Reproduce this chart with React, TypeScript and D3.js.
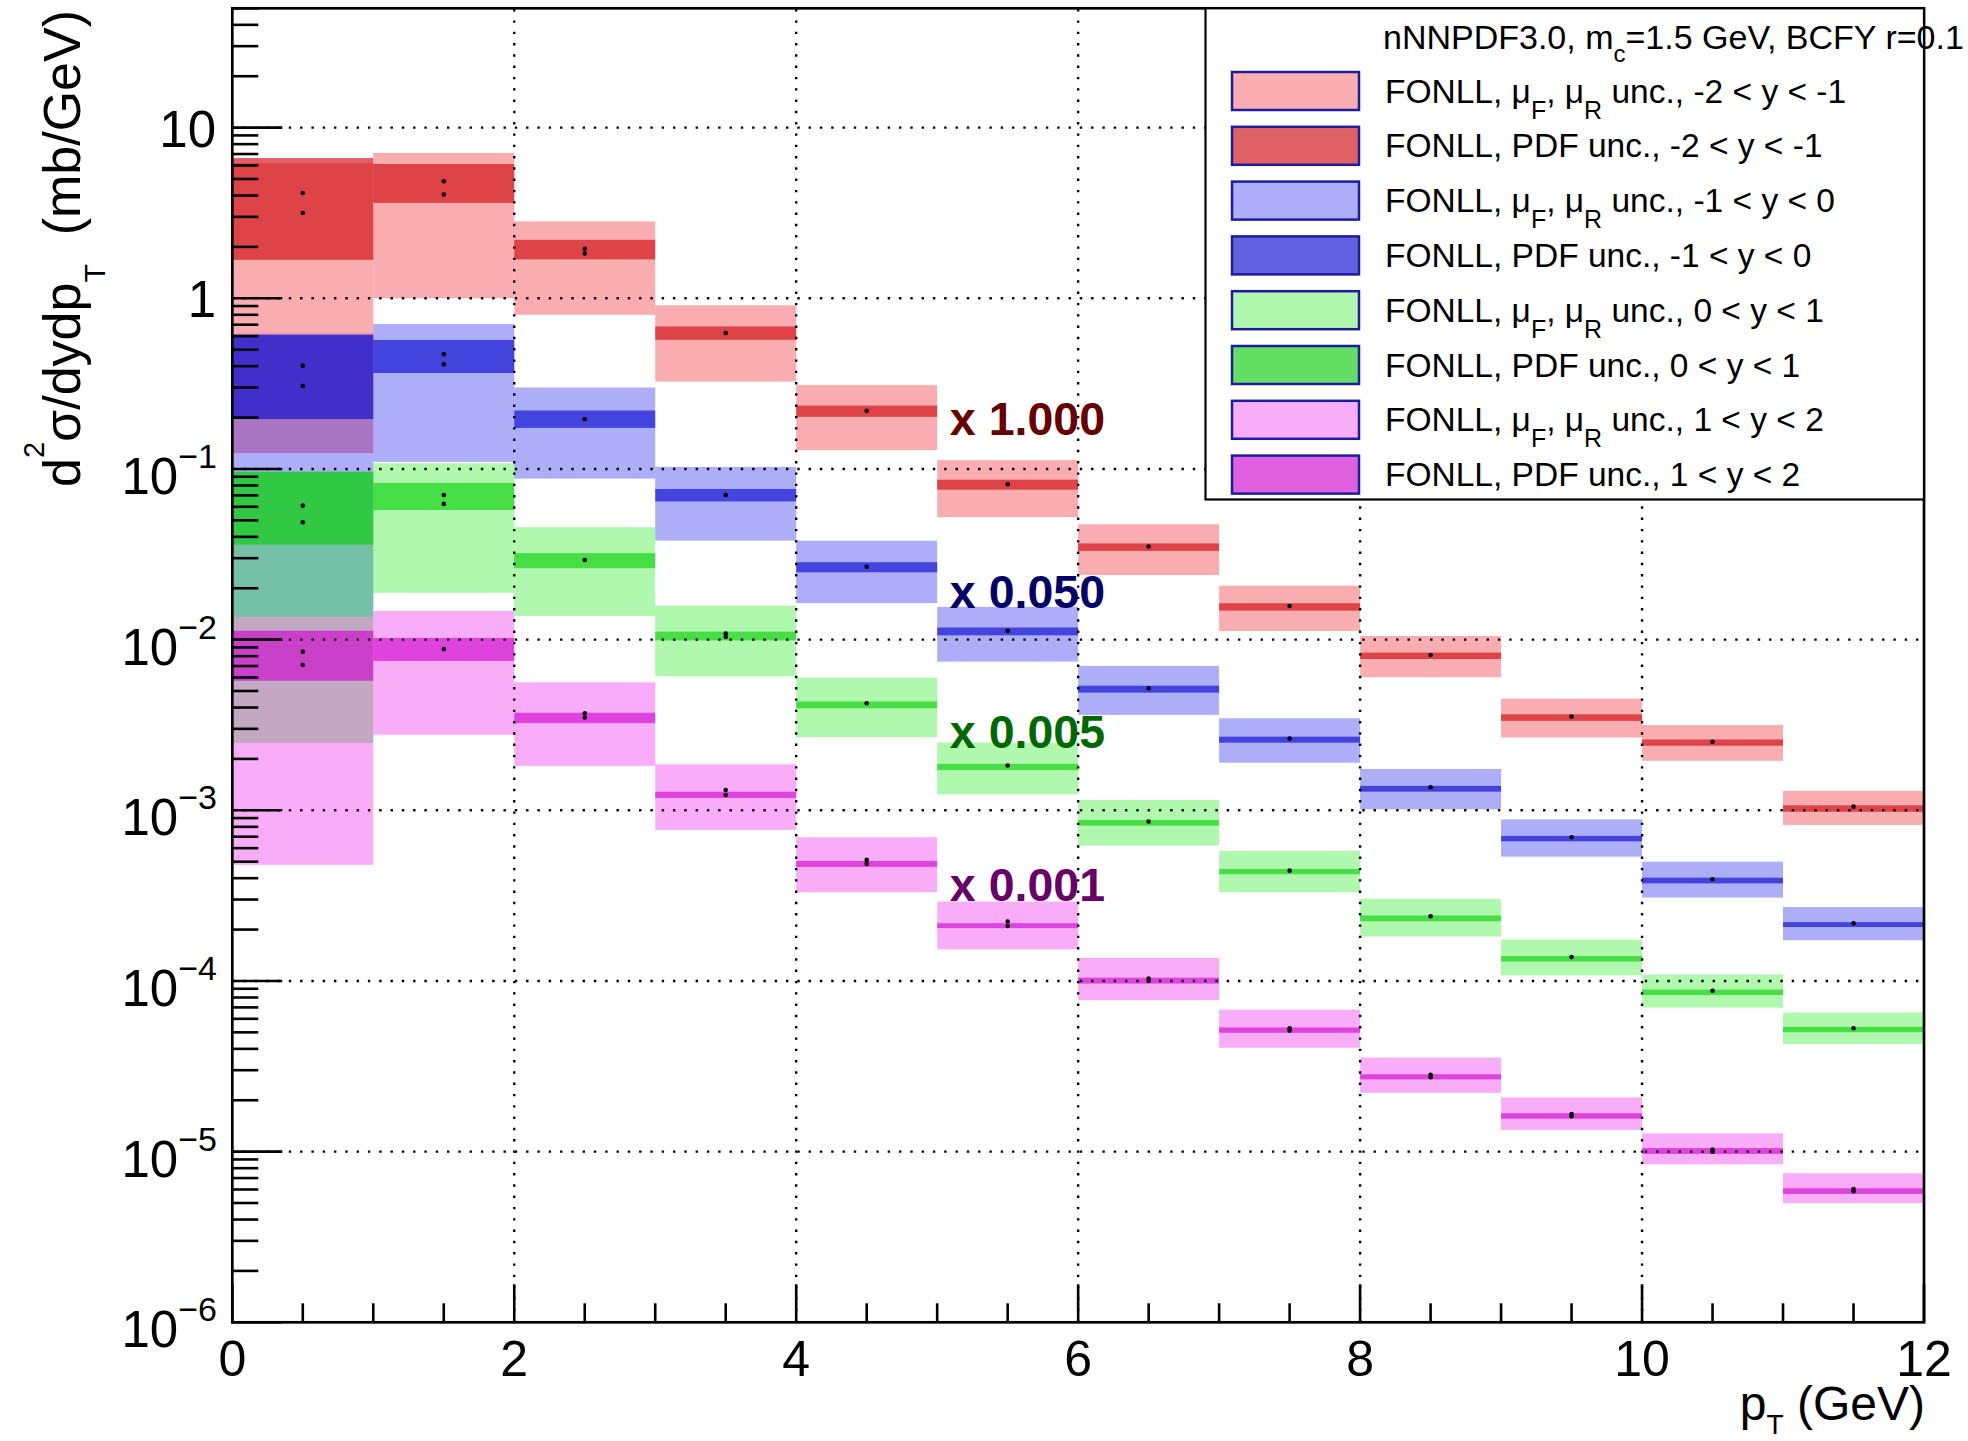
import React from "react";
import * as d3 from "d3";

const width = 1968;
const height = 1441;
const frame = { left: 232.3, right: 1924, top: 8.3, bottom: 1322.3 };
const font = "'Liberation Sans', Arial, Helvetica, sans-serif";

// pT bins (GeV)
const ptEdges = [0, 1, 2, 3, 4, 5, 6, 7, 8, 9, 10, 11, 12];

// -2 < y < -1, drawn x 1.000
const redScaleHi = [6.2, 7.1, 2.82, 0.91, 0.31, 0.1125, 0.0474, 0.0207, 0.0105, 0.00451, 0.00316, 0.0013];
const redScaleLo = [0.124, 1.0, 0.8, 0.325, 0.129, 0.0522, 0.0239, 0.01124, 0.00602, 0.00267, 0.00195, 0.00082];
const redPdfHi = [6.63, 6.12, 2.2, 0.684, 0.235, 0.0865, 0.0366, 0.01633, 0.00839, 0.00365, 0.0026, 0.00107];
const redPdfLo = [1.68, 3.62, 1.69, 0.571, 0.202, 0.0756, 0.0331, 0.01479, 0.0077, 0.00334, 0.00239, 0.00098];
const redMarkA = [4.14, 4.85, 1.95, 0.625, 0.219, 0.0813, 0.0351, 0.01574, 0.00813, 0.00354, 0.00252, 0.00105];
const redMarkB = [3.16, 4.05, 1.83, 0.625, 0.219, 0.0813, 0.0351, 0.01574, 0.00813, 0.00354, 0.00252, 0.00105];

// -1 < y < 0, drawn x 0.050
const blueScaleHi = [0.62, 0.707, 0.3, 0.1028, 0.038, 0.01556, 0.00701, 0.00346, 0.001746, 0.000885, 0.0005, 0.000271];
const blueScaleLo = [0.01358, 0.11, 0.0878, 0.038, 0.01636, 0.00743, 0.00362, 0.0019, 0.001014, 0.000535, 0.000308, 0.000173];
const bluePdfHi = [0.609, 0.57, 0.22, 0.0763, 0.0284, 0.01177, 0.00537, 0.0027, 0.00139, 0.000708, 0.000403, 0.000221];
const bluePdfLo = [0.196, 0.365, 0.174, 0.0645, 0.0248, 0.0106, 0.00489, 0.00249, 0.001286, 0.000658, 0.000373, 0.000207];
const blueMarkA = [0.403, 0.47, 0.196, 0.0703, 0.0267, 0.01125, 0.00519, 0.00263, 0.001365, 0.000695, 0.000394, 0.000218];
const blueMarkB = [0.306, 0.41, 0.196, 0.0703, 0.0267, 0.01125, 0.00519, 0.00263, 0.001365, 0.000695, 0.000394, 0.000218];

// 0 < y < 1, drawn x 0.005
const greenScaleHi = [0.0964, 0.108, 0.0456, 0.01578, 0.00598, 0.00249, 0.00115, 0.000578, 0.000303, 0.0001746, 0.000109, 0.0000653];
const greenScaleLo = [0.00248, 0.0188, 0.01377, 0.0061, 0.00268, 0.00124, 0.000621, 0.000331, 0.000182, 0.000108, 0.0000698, 0.0000427];
const greenPdfHi = [0.0963, 0.0828, 0.0321, 0.01114, 0.00434, 0.00187, 0.000877, 0.000453, 0.000242, 0.00014, 0.0000889, 0.0000538];
const greenPdfLo = [0.036, 0.0575, 0.0262, 0.0099, 0.00396, 0.00172, 0.000813, 0.000422, 0.000224, 0.00013, 0.0000828, 0.0000501];
const greenMarkA = [0.061, 0.0704, 0.0293, 0.01084, 0.00424, 0.00183, 0.000859, 0.000443, 0.000239, 0.000138, 0.0000875, 0.0000528];
const greenMarkB = [0.0487, 0.0624, 0.0293, 0.01037, 0.00424, 0.00183, 0.000859, 0.000443, 0.000239, 0.000138, 0.0000875, 0.0000528];

// 1 < y < 2, drawn x 0.001
const magScaleHi = [0.01358, 0.01473, 0.00562, 0.00186, 0.000695, 0.000292, 0.0001364, 0.0000679, 0.0000356, 0.0000208, 0.0000128, 0.00000747];
const magScaleLo = [0.000479, 0.00277, 0.00182, 0.000767, 0.000331, 0.000153, 0.0000771, 0.0000406, 0.0000221, 0.0000134, 0.00000843, 0.00000499];
const magPdfHi = [0.01127, 0.01023, 0.00373, 0.001285, 0.000505, 0.000218, 0.0001045, 0.0000534, 0.0000284, 0.0000168, 0.0000105, 0.0000061];
const magPdfLo = [0.00574, 0.0075, 0.00324, 0.00118, 0.000466, 0.000204, 0.0000965, 0.0000497, 0.0000265, 0.0000156, 0.0000097, 0.00000565];
const magMarkA = [0.0085, 0.0088, 0.0037, 0.001315, 0.000512, 0.000223, 0.0001033, 0.0000528, 0.0000282, 0.0000166, 0.0000103, 0.00000603];
const magMarkB = [0.0071, 0.0088, 0.0035, 0.00123, 0.000485, 0.00021, 0.0001, 0.0000512, 0.0000273, 0.0000161, 0.00001, 0.00000585];

const rapidityLabels = ["-2 < y < -1", "-1 < y < 0", "0 < y < 1", "1 < y < 2"];
const factorLabels = ["x 1.000", "x 0.050", "x 0.005", "x 0.001"];
const factorColors = ["#680000", "#000068", "#006800", "#680068"];
// where the factor labels sit (baseline), in data units (pT, value)
const factorPt = [5.09, 5.09, 5.09, 5.09];
const factorY = [0.159, 0.01534, 0.00231, 0.000293];

const series = [
  { scaleHi: redScaleHi, scaleLo: redScaleLo, pdfHi: redPdfHi, pdfLo: redPdfLo, markA: redMarkA, markB: redMarkB, scaleFill: "rgb(236,0,8)", pdfFill: "rgb(206,7,12)" },
  { scaleHi: blueScaleHi, scaleLo: blueScaleLo, pdfHi: bluePdfHi, pdfLo: bluePdfLo, markA: blueMarkA, markB: blueMarkB, scaleFill: "rgb(0,0,233)", pdfFill: "rgb(7,7,206)" },
  { scaleHi: greenScaleHi, scaleLo: greenScaleLo, pdfHi: greenPdfHi, pdfLo: greenPdfLo, markA: greenMarkA, markB: greenMarkB, scaleFill: "rgb(6,232,0)", pdfFill: "rgb(10,204,10)" },
  { scaleHi: magScaleHi, scaleLo: magScaleLo, pdfHi: magPdfHi, pdfLo: magPdfLo, markA: magMarkA, markB: magMarkB, scaleFill: "rgb(236,0,236)", pdfFill: "rgb(206,7,206)" },
];
const scaleOpacity = 0.32;
const pdfOpacity = 0.634;

const x = d3.scaleLinear().domain([0, 12]).range([frame.left, frame.right]);
const y = d3.scaleLog().domain([1e-6, 50]).range([frame.bottom, frame.top]);

const yTicks = y.ticks().filter((v) => v <= 50);
const isDecade = (v: number) => Math.abs(Math.log10(v) - Math.round(Math.log10(v))) < 1e-6;
const yMajor = yTicks.filter(isDecade);
const xTicks = d3.range(0, 12.001, 0.5);
const xMajor = [0, 2, 4, 6, 8, 10, 12];

const Band = ({ lo, hi, fill, opacity }: any) => (
  <g>
    {hi.map((h: number, i: number) => (
      <rect
        key={i}
        x={x(ptEdges[i])}
        width={x(ptEdges[i + 1]) - x(ptEdges[i])}
        y={y(h)}
        height={y(lo[i]) - y(h)}
        fill={fill}
        fillOpacity={opacity}
      />
    ))}
  </g>
);

// legend text with sub-scripts
const LegendLabel = ({ lx, ly, scale, rap }: any) => {
  if (scale) {
    return (
      <text x={lx} y={ly} fontSize={33.5} style={{ whiteSpace: "pre" }}>
        {"FONLL, \u03bc"}
        <tspan dy={16} fontSize={25}>F</tspan>
        <tspan dy={-16}>{", \u03bc"}</tspan>
        <tspan dy={16} fontSize={25}>R</tspan>
        <tspan dy={-16}>{" unc., " + rap}</tspan>
      </text>
    );
  }
  return (
    <text x={lx} y={ly} fontSize={33.5} style={{ whiteSpace: "pre" }}>
      {"FONLL, PDF unc., " + rap}
    </text>
  );
};

export default function App() {
  const legendRows: any[] = [];
  series.forEach((s, i) => {
    legendRows.push({ fill: s.scaleFill, opacity: scaleOpacity, scale: true, rap: rapidityLabels[i] });
    legendRows.push({ fill: s.pdfFill, opacity: pdfOpacity, scale: false, rap: rapidityLabels[i] });
  });

  return (
    <svg
      width={width}
      height={height}
      style={{ position: "absolute", left: 0, top: 0, background: "#fff" }}
      fontFamily={font}
    >
      <rect x={0} y={0} width={width} height={height} fill="#fff" />

      {/* bands, in legend order */}
      {series.map((s, i) => (
        <g key={i}>
          <Band lo={s.scaleLo} hi={s.scaleHi} fill={s.scaleFill} opacity={scaleOpacity} />
          <Band lo={s.pdfLo} hi={s.pdfHi} fill={s.pdfFill} opacity={pdfOpacity} />
        </g>
      ))}

      {/* central markers */}
      {series.map((s, i) => (
        <g key={i} fill="#000">
          {s.markA.map((m, j) => {
            const cx = x((ptEdges[j] + ptEdges[j + 1]) / 2);
            const yb = y(s.markB[j]);
            const ya = y(m);
            return (
              <g key={j}>
                <circle cx={cx} cy={ya} r={2.3} />
                {Math.abs(yb - ya) > 0.5 && <circle cx={cx} cy={yb} r={2.3} />}
              </g>
            );
          })}
        </g>
      ))}

      {/* scale factor labels */}
      {factorLabels.map((t, i) => (
        <text key={t} x={x(factorPt[i])} y={y(factorY[i])} fontSize={46.5} fontWeight="bold" fill={factorColors[i]}>
          {t}
        </text>
      ))}

      {/* grid */}
      <g stroke="#000" strokeWidth={2.4} strokeDasharray="2.4 8.9">
        {yMajor
          .filter((v) => v > 1.5e-6)
          .map((v) => (
            <line key={v} x1={frame.left} x2={frame.right} y1={y(v)} y2={y(v)} />
          ))}
        {xMajor
          .filter((v) => v > 0 && v < 12)
          .map((v) => (
            <line key={v} x1={x(v)} x2={x(v)} y1={frame.bottom} y2={frame.top} />
          ))}
      </g>

      {/* ticks */}
      <g stroke="#000" strokeWidth={2.6}>
        {yTicks.map((v) => (
          <line key={v} x1={frame.left} x2={frame.left + (isDecade(v) ? 50 : 26)} y1={y(v)} y2={y(v)} />
        ))}
        {xTicks.map((v) => (
          <line key={v} x1={x(v)} x2={x(v)} y1={frame.bottom} y2={frame.bottom - (v % 2 === 0 ? 38 : 19)} />
        ))}
      </g>

      {/* y tick labels */}
      {yMajor.map((v) => {
        const e = Math.round(Math.log10(v));
        const ty = y(v);
        if (e === 0 || e === 1) {
          return (
            <text key={v} x={216} y={ty + 19} textAnchor="end" fontSize={51}>
              {e === 0 ? "1" : "10"}
            </text>
          );
        }
        return (
          <text key={v} x={217} y={ty + 25} textAnchor="end" fontSize={51}>
            10
            <tspan dy={-26} fontSize={34}>
              {"\u2212" + -e}
            </tspan>
          </text>
        );
      })}

      {/* x tick labels */}
      {xMajor.map((v) => (
        <text key={v} x={x(v)} y={1376} textAnchor="middle" fontSize={50}>
          {v}
        </text>
      ))}

      {/* axis titles */}
      <text x={1925} y={1420} textAnchor="end" fontSize={48} style={{ whiteSpace: "pre" }}>
        p<tspan dy={14} fontSize={28}>T</tspan>
        <tspan dy={-14}>{" (GeV)"}</tspan>
      </text>
      <text
        transform="translate(80,10) rotate(-90)"
        x={0}
        y={0}
        textAnchor="end"
        fontSize={52}
        style={{ whiteSpace: "pre" }}
      >
        d<tspan dy={-36} fontSize={29}>2</tspan>
        <tspan dy={36}>{"\u03c3/dydp"}</tspan>
        <tspan dy={25} fontSize={30}>T</tspan>
        <tspan dy={-25}>{"  (mb/GeV)"}</tspan>
      </text>

      {/* frame */}
      <rect
        x={frame.left}
        y={frame.top}
        width={frame.right - frame.left}
        height={frame.bottom - frame.top}
        fill="none"
        stroke="#000"
        strokeWidth={2.7}
      />

      {/* legend */}
      <rect x={1205.5} y={frame.top} width={frame.right - 1205.5} height={499.5 - frame.top} fill="#fff" stroke="#000" strokeWidth={2.2} />
      <text x={1383} y={49} fontSize={34} style={{ whiteSpace: "pre" }}>
        {"nNNPDF3.0, m"}
        <tspan dy={13} fontSize={24}>c</tspan>
        <tspan dy={-13}>{"=1.5 GeV, BCFY r=0.1"}</tspan>
      </text>
      {legendRows.map((r, i) => {
        const cy = 91 + i * 54.8;
        return (
          <g key={i}>
            <rect x={1232} y={cy - 19} width={127} height={38} fill="#fff" />
            <rect x={1232} y={cy - 19} width={127} height={38} fill={r.fill} fillOpacity={r.opacity} stroke="#1c1ca0" strokeWidth={2.5} />
            <LegendLabel lx={1385} ly={cy + 11.5} scale={r.scale} rap={r.rap} />
          </g>
        );
      })}
    </svg>
  );
}
